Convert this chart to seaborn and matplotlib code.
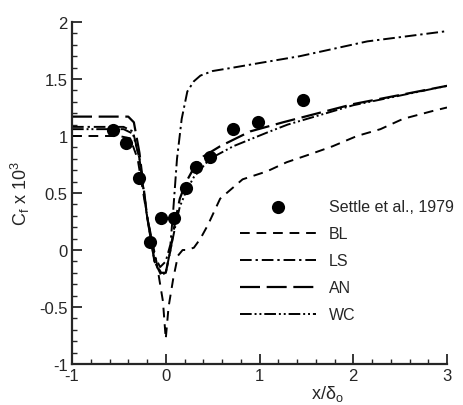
import matplotlib
matplotlib.use("Agg")
import matplotlib.pyplot as plt
import seaborn as sns
import pandas as pd
from matplotlib.ticker import MultipleLocator

# Experimental data (Settle et al., 1979)
settle_x = [-0.56, -0.42, -0.29, -0.17, -0.05, 0.09, 0.22, 0.32, 0.47, 0.72, 0.98, 1.46]
settle_y = [1.05, 0.94, 0.63, 0.07, 0.28, 0.28, 0.54, 0.73, 0.82, 1.06, 1.12, 1.32]

# BL model
bl_x = [-1.0, -0.5, -0.38, -0.3, -0.2, -0.1, -0.03, 0.0, 0.03, 0.08, 0.13, 0.18, 0.22, 0.3,
        0.37, 0.45, 0.58, 0.82, 1.08, 1.29, 1.54, 1.78, 2.04, 2.29, 2.53, 2.85, 3.0]
bl_y = [1.0, 1.0, 0.98, 0.8, 0.3, -0.1, -0.45, -0.78, -0.5, -0.25, -0.05, 0.0, 0.0, 0.02,
        0.1, 0.22, 0.45, 0.62, 0.69, 0.77, 0.84, 0.91, 1.0, 1.06, 1.15, 1.22, 1.25]

# LS model
ls_x = [-1.0, -0.45, -0.35, -0.28, -0.2, -0.12, -0.06, 0.0, 0.05, 0.08, 0.12, 0.17, 0.23,
        0.3, 0.37, 0.5, 0.72, 1.0, 1.43, 2.15, 3.0]
ls_y = [1.08, 1.08, 1.04, 0.8, 0.3, -0.05, -0.15, -0.1, 0.05, 0.35, 0.8, 1.15, 1.39,
        1.48, 1.53, 1.57, 1.6, 1.64, 1.7, 1.83, 1.92]

# AN model
an_x = [-1.0, -0.4, -0.34, -0.28, -0.2, -0.12, -0.05, 0.0, 0.05, 0.1, 0.15, 0.22, 0.3,
        0.4, 0.58, 0.9, 1.25, 2.0, 3.0]
an_y = [1.17, 1.17, 1.12, 0.85, 0.3, -0.1, -0.2, -0.2, 0.0, 0.25, 0.45, 0.6, 0.72,
        0.82, 0.91, 1.04, 1.12, 1.28, 1.44]

# WC model
wc_x = [-1.0, -0.45, -0.35, -0.28, -0.2, -0.12, -0.05, 0.0, 0.05, 0.1, 0.15, 0.22, 0.3,
        0.47, 0.72, 1.08, 1.3, 2.0, 3.0]
wc_y = [1.06, 1.06, 1.02, 0.8, 0.3, -0.1, -0.22, -0.2, 0.0, 0.2, 0.38, 0.52, 0.64,
        0.8, 0.91, 1.03, 1.1, 1.27, 1.44]

sns.set_style("ticks")
plt.rcParams['font.family'] = ['Liberation Sans', 'DejaVu Sans']
plt.rcParams['mathtext.fontset'] = 'custom'
plt.rcParams['mathtext.rm'] = 'Liberation Sans'
plt.rcParams['mathtext.it'] = 'Liberation Sans'

fig = plt.figure(figsize=(4.63, 4.06), dpi=100)
ax = fig.add_axes([72/463, 1 - 365/406, 375/463, 342/406])

sns.scatterplot(x=settle_x, y=settle_y, ax=ax, color='black', s=90, edgecolor='black',
                linewidth=0, label='Settle et al., 1979', zorder=5)
sns.lineplot(x=bl_x, y=bl_y, ax=ax, color='black', lw=1.4, sort=False, label='BL')
ax.lines[-1].set_dashes((5, 3.5))
sns.lineplot(x=ls_x, y=ls_y, ax=ax, color='black', lw=1.4, sort=False, label='LS')
ax.lines[-1].set_dashes((6, 2, 1.2, 2))
sns.lineplot(x=an_x, y=an_y, ax=ax, color='black', lw=1.6, sort=False, label='AN')
ax.lines[-1].set_dashes((9, 3))
sns.lineplot(x=wc_x, y=wc_y, ax=ax, color='black', lw=1.4, sort=False, label='WC')
ax.lines[-1].set_dashes((6, 1.5, 1, 1.5, 1, 1.5))

ax.set_xlim(-1, 3)
ax.set_ylim(-1, 2)
ax.xaxis.set_minor_locator(MultipleLocator(0.2))
ax.yaxis.set_minor_locator(MultipleLocator(0.1))
ax.set_yticks([-1, -0.5, 0, 0.5, 1, 1.5, 2])
ax.set_yticklabels(['-1', '-0.5', '0', '0.5', '1', '1.5', '2'])
ax.set_xticks([-1, 0, 1, 2, 3])
ax.set_xticklabels(['-1', '0', '1', '2', '3'])
ax.tick_params(which='major', direction='in', length=7, width=1.3, labelsize=12, pad=3)
ax.tick_params(which='minor', direction='in', length=3.5, width=1.0)
for s in ['top', 'right']:
    ax.spines[s].set_visible(False)
for s in ['left', 'bottom']:
    ax.spines[s].set_linewidth(1.6)

ax.set_ylabel(r'C$_f$ x 10$^3$', fontsize=13, labelpad=5)
ax.set_xlabel(r'x/$\delta_o$', fontsize=13, labelpad=1)
ax.xaxis.set_label_coords(0.68, -0.055)

leg = ax.legend(loc='upper left', bbox_to_anchor=(0.43, 0.50), frameon=False,
                fontsize=11.5, handlelength=4.8, handletextpad=0.8, labelspacing=0.75,
                borderaxespad=0)

fig.savefig('out.png', dpi=100)
